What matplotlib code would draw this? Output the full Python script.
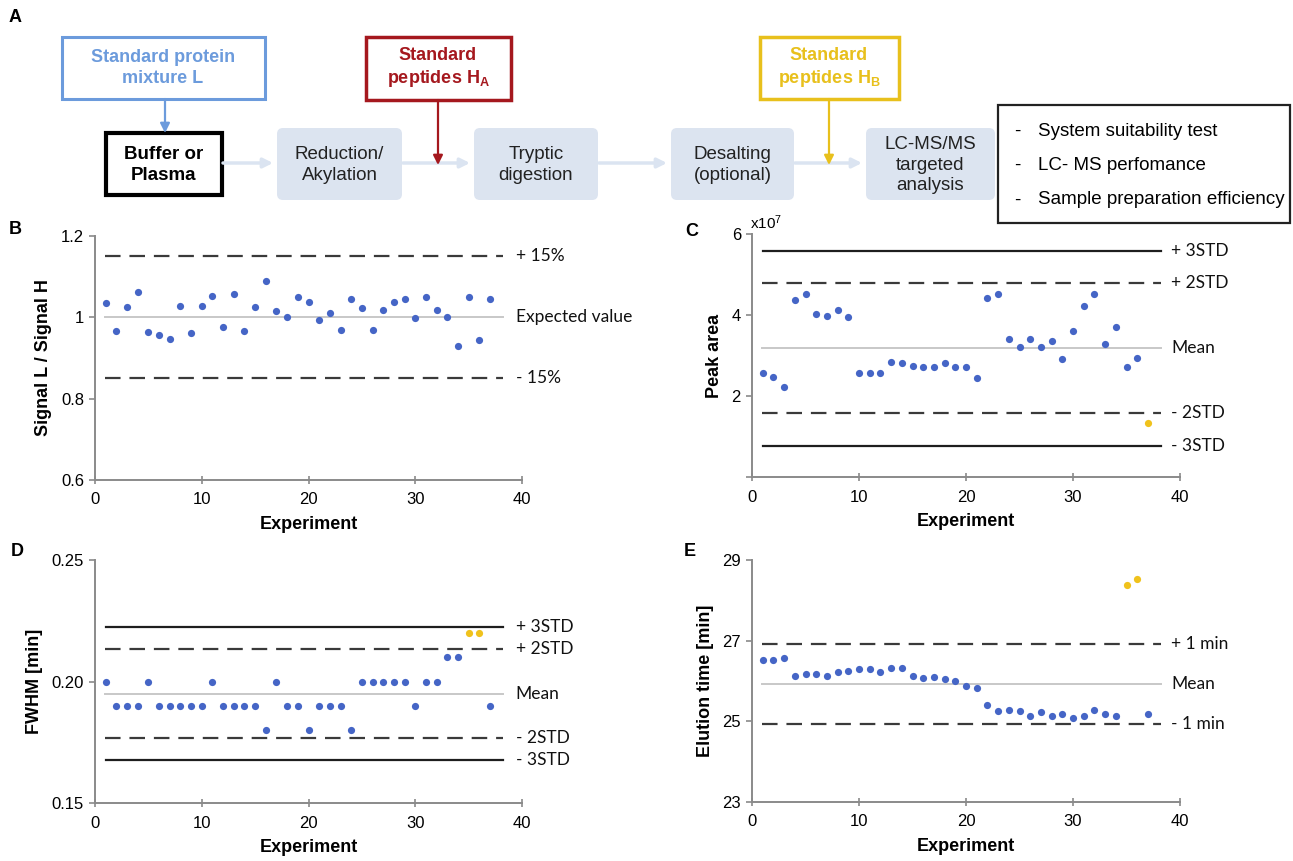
import matplotlib
matplotlib.use("Agg")
import matplotlib.pyplot as plt
from matplotlib.patches import FancyBboxPatch, Rectangle

plt.rcParams['font.family'] = ['Liberation Sans', 'DejaVu Sans']
plt.rcParams['mathtext.fontset'] = 'custom'
plt.rcParams['mathtext.rm'] = 'Liberation Sans'
plt.rcParams['mathtext.it'] = 'Liberation Sans:italic'
plt.rcParams['mathtext.bf'] = 'Liberation Sans:bold'

NARROW = ['Lato', 'Liberation Sans', 'DejaVu Sans']

# ---------------- data ----------------
experiments = list(range(1, 38))

ratio_LH = [1.035, 0.966, 1.026, 1.062, 0.963, 0.956, 0.946, 1.028, 0.961, 1.028,
            1.053, 0.976, 1.058, 0.966, 1.026, 1.090, 1.015, 1.001, 1.050, 1.037,
            0.993, 1.011, 0.968, 1.046, 1.024, 0.968, 1.017, 1.037, 1.046, 0.999,
            1.050, 1.019, 1.001, 0.930, 1.050, 0.944, 1.046]
ratio_lines = [1.15, 1.0, 0.85]
ratio_labels = ['+ 15%', 'Expected value', '- 15%']

peak_area = [2.56, 2.47, 2.23, 4.36, 4.53, 4.02, 3.98, 4.12, 3.96, 2.58,
             2.58, 2.56, 2.83, 2.81, 2.75, 2.72, 2.71, 2.81, 2.71, 2.72,
             2.44, 4.41, 4.53, 3.40, 3.20, 3.41, 3.22, 3.36, 2.91, 3.60,
             4.23, 4.53, 3.29, 3.71, 2.71, 2.94, 1.33]
peak_outliers = [37]
peak_lines = [5.59, 4.78, 3.19, 1.58, 0.76]
std_labels = ['+ 3STD', '+ 2STD', 'Mean', '- 2STD', '- 3STD']

fwhm = [0.20, 0.19, 0.19, 0.19, 0.20, 0.19, 0.19, 0.19, 0.19, 0.19,
        0.20, 0.19, 0.19, 0.19, 0.19, 0.18, 0.20, 0.19, 0.19, 0.18,
        0.19, 0.19, 0.19, 0.18, 0.20, 0.20, 0.20, 0.20, 0.20, 0.19,
        0.20, 0.20, 0.21, 0.21, 0.22, 0.22, 0.19]
fwhm_outliers = [35, 36]
fwhm_lines = [0.2223, 0.2133, 0.1949, 0.1766, 0.1678]

elution = [26.52, 26.52, 26.57, 26.12, 26.17, 26.17, 26.12, 26.22, 26.25, 26.29,
           26.29, 26.22, 26.33, 26.31, 26.12, 26.08, 26.10, 26.05, 26.00, 25.87,
           25.83, 25.41, 25.26, 25.28, 25.26, 25.13, 25.24, 25.13, 25.18, 25.08,
           25.13, 25.29, 25.18, 25.13, 28.37, 28.53, 25.18]
elution_outliers = [35, 36]
elution_lines = [26.92, 25.92, 24.94]
elution_labels = ['+ 1 min', 'Mean', '- 1 min']

# ---------------- figure ----------------
W, H = 1293, 861
fig = plt.figure(figsize=(W / 100, H / 100), dpi=100)

BLUE = '#4565c6'
YELLOW = '#f0c21c'
SPINE = '#8a8a8a'


def make_ax(l, t, r, b):
    return fig.add_axes([l / W, 1 - b / H, (r - l) / W, (b - t) / H])


def style(ax, xlim, ylim, yticks, ylabels, ylab):
    ax.set_xlim(*xlim)
    ax.set_ylim(*ylim)
    for s in ['top', 'right']:
        ax.spines[s].set_visible(False)
    for s in ['left', 'bottom']:
        ax.spines[s].set_color(SPINE)
        ax.spines[s].set_linewidth(1.4)
    ax.set_xticks([0, 10, 20, 30, 40])
    ax.set_yticks(yticks)
    ax.set_yticklabels(ylabels)
    ax.tick_params(axis='x', direction='inout', length=6, width=1.2, color=SPINE,
                   labelsize=12, pad=6)
    ax.tick_params(axis='y', direction='out', length=4, width=1.2, color=SPINE,
                   labelsize=12, pad=4)
    ax.set_xlabel('Experiment', fontsize=13, fontweight='bold', labelpad=6)
    ax.set_ylabel(ylab, fontsize=13, fontweight='bold', labelpad=6)


def ref_lines(ax, values, styles, labels, xlab):
    for v, st, lab in zip(values, styles, labels):
        if st == 'solid':
            ax.plot([1.0, 38.2], [v, v], color='#1e1e1e', lw=1.6, zorder=2)
        elif st == 'dash':
            ax.plot([0.9, 38.2], [v, v], color='#3a3a3a', lw=1.6,
                    dashes=(7, 4), zorder=2)
        else:
            ax.plot([0.9, 38.2], [v, v], color='#c8c8c8', lw=1.4, zorder=1)
        ax.text(xlab, v, lab, fontsize=12.5, family=NARROW, va='center', ha='left',
                clip_on=False, color='#111111')


def scatter(ax, yvals, outliers):
    xb = [x for x in experiments if x not in outliers]
    yb = [y for x, y in zip(experiments, yvals) if x not in outliers]
    xo = [x for x in experiments if x in outliers]
    yo = [y for x, y in zip(experiments, yvals) if x in outliers]
    ax.plot(xb, yb, 'o', color=BLUE, ms=5.2, mec='none', zorder=3)
    ax.plot(xo, yo, 'o', color=YELLOW, ms=5.2, mec='none', zorder=3)


# B
axB = make_ax(95, 236, 522, 480)
style(axB, (0, 40), (0.6, 1.2), [0.6, 0.8, 1.0, 1.2], ['0.6', '0.8', '1', '1.2'],
      'Signal L / Signal H')
ref_lines(axB, ratio_lines, ['dash', 'mean', 'dash'], ratio_labels, 39.4)
scatter(axB, ratio_LH, [])

# C
axC = make_ax(752, 234, 1180, 477)
style(axC, (0, 40), (0, 6), [0, 2, 4, 6], ['', '2', '4', '6'], 'Peak area')
ref_lines(axC, peak_lines, ['solid', 'dash', 'mean', 'dash', 'solid'], std_labels, 39.2)
scatter(axC, peak_area, peak_outliers)
fig.text(750 / W, 1 - 223 / H, r'x10$^7$', fontsize=11, ha='left', va='center')

# D
axD = make_ax(95, 560, 522, 803)
style(axD, (0, 40), (0.15, 0.25), [0.15, 0.20, 0.25], ['0.15', '0.20', '0.25'],
      'FWHM [min]')
ref_lines(axD, fwhm_lines, ['solid', 'dash', 'mean', 'dash', 'solid'], std_labels, 39.4)
scatter(axD, fwhm, fwhm_outliers)

# E
axE = make_ax(752, 560, 1180, 802)
style(axE, (0, 40), (23, 29), [23, 25, 27, 29], ['23', '25', '27', '29'],
      'Elution time [min]')
ref_lines(axE, elution_lines, ['dash', 'mean', 'dash'], elution_labels, 39.2)
scatter(axE, elution, elution_outliers)

# panel letters
for lab, x, y in [('A', 15, 18), ('B', 15, 229), ('C', 692, 231), ('D', 17, 552), ('E', 690, 552)]:
    fig.text(x / W, 1 - y / H, lab, fontsize=13, fontweight='bold', ha='center', va='center')

# ---------------- flow chart (panel A) ----------------
fa = fig.add_axes([0, 0, 1, 1], zorder=-1)
fa.set_xlim(0, W)
fa.set_ylim(H, 0)
fa.axis('off')

STEP_FILL = '#dce4f0'
ARROW_LIGHT = '#dbe4f1'
C_BLUE = '#6c9bdc'
C_RED = '#a5181e'
C_YEL = '#e8c01c'


def step_box(x0, x1, y0, y1, text):
    p = FancyBboxPatch((x0 + 6, y0 + 6), x1 - x0 - 12, y1 - y0 - 12,
                       boxstyle='round,pad=6', fc=STEP_FILL, ec='none')
    fa.add_patch(p)
    fa.text((x0 + x1) / 2, (y0 + y1) / 2 + 1, text, ha='center', va='center',
            fontsize=13.5, color='#222222', linespacing=1.25)


def light_arrow(x0, x1, y):
    fa.annotate('', xy=(x1, y), xytext=(x0, y),
                arrowprops=dict(arrowstyle='-|>', color=ARROW_LIGHT, lw=2.5,
                                mutation_scale=14, shrinkA=0, shrinkB=0))


def down_arrow(x, y0, y1, color):
    fa.annotate('', xy=(x, y1), xytext=(x, y0),
                arrowprops=dict(arrowstyle='-|>', color=color, lw=1.6,
                                mutation_scale=14, shrinkA=0, shrinkB=0))


# input boxes
fa.add_patch(Rectangle((62, 37), 203, 62, fc='white', ec=C_BLUE, lw=2.2))
fa.text(163, 68, 'Standard protein\nmixture L', ha='center', va='center', fontsize=13,
        fontweight='bold', color=C_BLUE, linespacing=1.3)
fa.add_patch(Rectangle((366, 37), 145, 63, fc='white', ec=C_RED, lw=2.5))
fa.text(438, 68, 'Standard\npeptides $\\mathbf{H_A}$', ha='center', va='center',
        fontsize=13, fontweight='bold', color=C_RED, linespacing=1.3)
fa.add_patch(Rectangle((760, 37), 139, 62, fc='white', ec=C_YEL, lw=2.5))
fa.text(829, 68, 'Standard\npeptides $\\mathbf{H_B}$', ha='center', va='center',
        fontsize=13, fontweight='bold', color=C_YEL, linespacing=1.3)

# sample box
fa.add_patch(Rectangle((106, 133), 116, 62, fc='white', ec='black', lw=3))
fa.text(164, 165, 'Buffer or\nPlasma', ha='center', va='center', fontsize=13.5,
        fontweight='bold', color='black', linespacing=1.3)

# steps
step_box(277, 402, 128, 200, 'Reduction/\nAkylation')
step_box(474, 598, 128, 200, 'Tryptic\ndigestion')
step_box(671, 794, 128, 200, 'Desalting\n(optional)')
step_box(866, 995, 128, 200, 'LC-MS/MS\ntargeted\nanalysis')

# light arrows
light_arrow(223, 273, 163)
light_arrow(403, 470, 163)
light_arrow(599, 667, 163)
light_arrow(795, 862, 163)

# coloured arrows
down_arrow(165, 99, 133, C_BLUE)
down_arrow(438, 100, 165, C_RED)
down_arrow(829, 99, 165, C_YEL)

# bullet box
fa.add_patch(Rectangle((998, 105), 292, 118, fc='white', ec='#222222', lw=1.6))
for yy, txt in zip([131, 165, 200], ['System suitability test', 'LC- MS perfomance',
                                     'Sample preparation efficiency']):
    fa.text(1017, yy, '-', ha='center', va='center', fontsize=13.5, color='black')
    fa.text(1038, yy, txt, ha='left', va='center', fontsize=13.5, color='black')

fig.savefig('out.png', dpi=100)
